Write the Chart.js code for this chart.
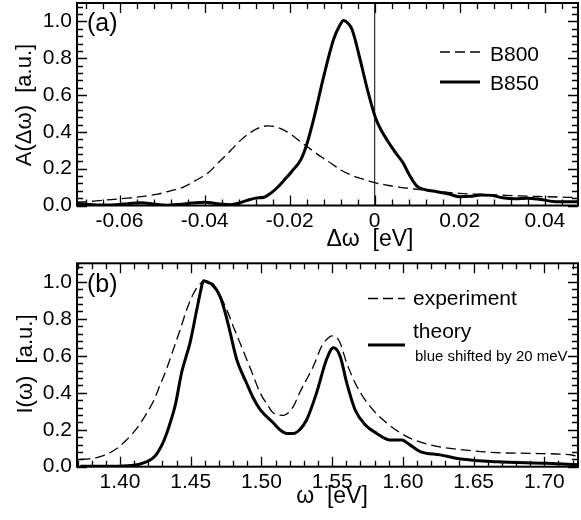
<!DOCTYPE html>
<html>
<head>
<meta charset="utf-8">
<script src="https://cdn.jsdelivr.net/npm/chart.js@4"></script>
<style>
 html, body { margin: 0; padding: 0; background: #fff; }
 .panel { position: absolute; left: 0; width: 581px; height: 260px; }
</style>
</head>
<body>
<div class="panel" style="top:0"><canvas id="chartA" width="581" height="260"></canvas></div>
<div class="panel" style="top:260px"><canvas id="chartB" width="581" height="260"></canvas></div>
<script>
// panel (a): spectral functions vs detuning
var b800X = [-0.070, -0.066, -0.062, -0.058, -0.055, -0.051, -0.048, -0.045, -0.042, -0.039, -0.037, -0.035, -0.033, -0.031, -0.029, -0.027, -0.025, -0.023, -0.021, -0.019, -0.0174, -0.015, -0.0127, -0.010, -0.008, -0.0055, -0.0034, 0.000, 0.003, 0.006, 0.010, 0.013, 0.016, 0.020, 0.024, 0.0287, 0.034, 0.040, 0.048];
var b800Y = [0.018, 0.024, 0.032, 0.040, 0.048, 0.062, 0.080, 0.100, 0.137, 0.180, 0.228, 0.272, 0.320, 0.365, 0.400, 0.424, 0.433, 0.425, 0.405, 0.375, 0.345, 0.305, 0.266, 0.225, 0.193, 0.165, 0.148, 0.124, 0.110, 0.099, 0.088, 0.081, 0.074, 0.066, 0.061, 0.057, 0.052, 0.048, 0.043];

var b850X = [-0.070, -0.067, -0.064, -0.061, -0.058, -0.055, -0.052, -0.049, -0.046, -0.043, -0.040, -0.037, -0.034, -0.032, -0.030, -0.028, -0.026, -0.0245, -0.023, -0.0214, -0.0195, -0.0174, -0.0160, -0.0144, -0.0120, -0.0097, -0.0083, -0.0073, -0.0063, -0.0053, -0.0034, -0.0015, 0.0002, 0.0015, 0.0029, 0.0048, 0.0067, 0.0083, 0.0099, 0.0120, 0.0146, 0.0175, 0.0200, 0.0225, 0.0250, 0.0275, 0.0300, 0.0330, 0.0360, 0.0390, 0.0420, 0.0450, 0.0480];
var b850Y = [0.012, 0.006, 0.003, 0.004, 0.010, 0.015, 0.008, 0.002, 0.006, 0.013, 0.018, 0.010, 0.004, 0.012, 0.028, 0.040, 0.045, 0.066, 0.095, 0.135, 0.185, 0.248, 0.330, 0.465, 0.700, 0.900, 0.975, 1.005, 0.990, 0.955, 0.790, 0.610, 0.475, 0.410, 0.356, 0.290, 0.230, 0.160, 0.105, 0.085, 0.075, 0.062, 0.048, 0.050, 0.057, 0.055, 0.042, 0.036, 0.040, 0.032, 0.022, 0.020, 0.020];

var xTicksA = [-0.06, -0.04, -0.02, 0, 0.02, 0.04];
var xLabelsA = ["-0.06", "-0.04", "-0.02", "0", "0.02", "0.04"];

// panel (b): absorption spectra
var expX = [1.372, 1.378, 1.386, 1.392, 1.398, 1.404, 1.409, 1.414, 1.419, 1.424, 1.428, 1.433, 1.4377, 1.4425, 1.4472, 1.4515, 1.4554, 1.4601, 1.466, 1.472, 1.476, 1.480, 1.4848, 1.4896, 1.4943, 1.499, 1.5038, 1.5085, 1.5156, 1.5226, 1.527, 1.5367, 1.5426, 1.547, 1.5499, 1.555, 1.5603, 1.5674, 1.5768, 1.5886, 1.6027, 1.6193, 1.6428, 1.6664, 1.690, 1.7136, 1.720, 1.724];
var expY = [0.040, 0.042, 0.054, 0.072, 0.100, 0.140, 0.180, 0.230, 0.290, 0.360, 0.435, 0.530, 0.634, 0.740, 0.850, 0.930, 0.978, 1.005, 0.987, 0.906, 0.840, 0.760, 0.670, 0.580, 0.490, 0.400, 0.340, 0.290, 0.278, 0.326, 0.400, 0.543, 0.652, 0.695, 0.707, 0.680, 0.560, 0.435, 0.326, 0.236, 0.163, 0.118, 0.091, 0.076, 0.072, 0.067, 0.062, 0.055];

var theoryX = [1.372, 1.390, 1.405, 1.413, 1.419, 1.423, 1.426, 1.4295, 1.433, 1.436, 1.439, 1.4436, 1.4465, 1.4495, 1.4543, 1.457, 1.459, 1.4625, 1.4649, 1.4708, 1.4745, 1.4779, 1.4825, 1.4896, 1.4943, 1.499, 1.5085, 1.513, 1.518, 1.5226, 1.527, 1.532, 1.539, 1.546, 1.5509, 1.5556, 1.5603, 1.5662, 1.5733, 1.5815, 1.591, 1.5992, 1.605, 1.6122, 1.6263, 1.6428, 1.6664, 1.7018, 1.724];
var theoryY = [0.002, 0.002, 0.005, 0.012, 0.027, 0.045, 0.070, 0.115, 0.180, 0.250, 0.330, 0.510, 0.590, 0.670, 0.850, 0.950, 1.005, 0.995, 0.987, 0.920, 0.830, 0.725, 0.580, 0.450, 0.370, 0.310, 0.236, 0.200, 0.180, 0.180, 0.200, 0.254, 0.400, 0.580, 0.643, 0.598, 0.453, 0.308, 0.227, 0.180, 0.145, 0.145, 0.118, 0.082, 0.064, 0.040, 0.027, 0.018, 0.010];

var xTicksB = [1.40, 1.45, 1.50, 1.55, 1.60, 1.65, 1.70];
var xLabelsB = ["1.40", "1.45", "1.50", "1.55", "1.60", "1.65", "1.70"];

var yTicks = [0, 0.2, 0.4, 0.6, 0.8, 1.0];
var yLabels = ["0.0", "0.2", "0.4", "0.6", "0.8", "1.0"];

var FONT = "'Liberation Sans', Arial, Helvetica, sans-serif";

function pts(xs, ys) {
 return xs.map(function (x, i) {
  return { x: x, y: ys[i] };
 });
}

// inward ticks on all four sides plus the frame
var frameTicks = {
 id: "frameTicks",
 afterDraw: function (chart, args, opts) {
  var ctx = chart.ctx;
  var a = chart.chartArea;
  var xs = chart.scales.x;
  var ys = chart.scales.y;
  ctx.save();
  ctx.strokeStyle = "#000";
  ctx.lineWidth = 1.3;
  ctx.beginPath();
  var k0 = Math.ceil(xs.min / opts.xMinor - 1e-6);
  var k1 = Math.floor(xs.max / opts.xMinor + 1e-6);
  for (var k = k0; k <= k1; k++) {
   var v = k * opts.xMinor;
   var r = v / opts.xMajor;
   var len = Math.abs(r - Math.round(r)) < 1e-6 ? 10 : 6;
   var px = Math.round(xs.getPixelForValue(v)) + 0.5;
   ctx.moveTo(px, a.bottom);
   ctx.lineTo(px, a.bottom - len);
   ctx.moveTo(px, a.top);
   ctx.lineTo(px, a.top + len);
  }
  k0 = Math.ceil(ys.min / opts.yMinor - 1e-6);
  k1 = Math.floor(ys.max / opts.yMinor + 1e-6);
  for (k = k0; k <= k1; k++) {
   v = k * opts.yMinor;
   r = v / opts.yMajor;
   len = Math.abs(r - Math.round(r)) < 1e-6 ? 10 : 6;
   var py = Math.round(ys.getPixelForValue(v)) + 0.5;
   ctx.moveTo(a.left, py);
   ctx.lineTo(a.left + len, py);
   ctx.moveTo(a.right, py);
   ctx.lineTo(a.right - len, py);
  }
  ctx.stroke();
  ctx.lineWidth = 2;
  ctx.strokeRect(a.left, a.top, a.right - a.left, a.bottom - a.top);
  ctx.restore();
 },
};

// legend rows and free text (panel tag, axis titles)
var annotations = {
 id: "annotations",
 afterDraw: function (chart, args, opts) {
  var ctx = chart.ctx;
  ctx.save();
  ctx.fillStyle = "#000";
  ctx.strokeStyle = "#000";
  (opts.legend || []).forEach(function (row) {
   var ds = chart.data.datasets[row.dataset];
   ctx.lineWidth = ds.borderWidth;
   ctx.setLineDash(ds.borderDash || []);
   ctx.beginPath();
   ctx.moveTo(row.x1, row.y);
   ctx.lineTo(row.x2, row.y);
   ctx.stroke();
   ctx.setLineDash([]);
   ctx.font = "21px " + FONT;
   ctx.textAlign = "left";
   ctx.textBaseline = "alphabetic";
   ctx.fillText(ds.label, row.tx, row.ty);
  });
  (opts.texts || []).forEach(function (t) {
   ctx.save();
   ctx.font = t.font;
   ctx.textAlign = t.align || "center";
   ctx.textBaseline = "middle";
   ctx.translate(t.x, t.y);
   if (t.rotate) ctx.rotate(t.rotate);
   ctx.fillText(t.text, 0, 0);
   ctx.restore();
  });
  ctx.restore();
 },
};

function makeChart(id, datasets, cfg) {
 return new Chart(document.getElementById(id), {
  type: "scatter",
  data: { datasets: datasets },
  options: {
   responsive: false,
   animation: false,
   events: [],
   layout: { padding: { left: 0, top: cfg.top, right: 3, bottom: 0 } },
   elements: { point: { radius: 0 } },
   plugins: {
    legend: { display: false },
    tooltip: { enabled: false },
    frameTicks: cfg.ticks,
    annotations: cfg.annotations,
   },
   scales: {
    x: {
     type: "linear",
     min: cfg.xMin,
     max: cfg.xMax,
     grid: { display: false, drawTicks: false },
     border: { display: false },
     afterBuildTicks: function (s) {
      s.ticks = cfg.xTicks.map(function (v) { return { value: v }; });
     },
     afterFit: function (s) {
      s.height = cfg.xHeight;
      s.paddingLeft = 0;
      s.paddingRight = 0;
     },
     ticks: {
      padding: 3,
      maxRotation: 0,
      autoSkip: false,
      color: "#000",
      font: { family: FONT, size: 21 },
      callback: function (v, i) { return cfg.xLabels[i]; },
     },
    },
    y: {
     type: "linear",
     min: 0,
     max: 1.1,
     grid: { display: false, drawTicks: false },
     border: { display: false },
     afterBuildTicks: function (s) {
      s.ticks = yTicks.map(function (v) { return { value: v }; });
     },
     afterFit: function (s) {
      s.width = 77;
      s.paddingTop = 0;
      s.paddingBottom = 0;
     },
     ticks: {
      padding: 5,
      autoSkip: false,
      color: "#000",
      font: { family: FONT, size: 21 },
      callback: function (v, i) { return yLabels[i]; },
     },
    },
   },
  },
  plugins: [frameTicks, annotations],
 });
}

makeChart("chartA", [
 {
  label: "B800",
  data: pts(b800X, b800Y),
  showLine: true,
  borderColor: "#000",
  borderWidth: 1.3,
  borderDash: [10, 5],
  cubicInterpolationMode: "monotone",
 },
 {
  label: "B850",
  data: pts(b850X, b850Y),
  showLine: true,
  borderColor: "#000",
  borderWidth: 3,
  cubicInterpolationMode: "monotone",
 },
 {
  label: "zero",
  data: [{ x: 0, y: 0 }, { x: 0, y: 1.1 }],
  showLine: true,
  borderColor: "#000",
  borderWidth: 1,
 },
], {
 top: 3,
 xHeight: 54.5,
 xMin: -0.07,
 xMax: 0.0478,
 xTicks: xTicksA,
 xLabels: xLabelsA,
 ticks: { xMajor: 0.02, xMinor: 0.004, yMajor: 0.2, yMinor: 0.04 },
 annotations: {
  legend: [
   { dataset: 0, x1: 440, x2: 480, y: 52, tx: 490, ty: 61 },
   { dataset: 1, x1: 440, x2: 480, y: 82, tx: 490, ty: 90 },
  ],
  texts: [
   { text: "(a)", x: 87, y: 24, align: "left", font: "25px " + FONT },
   { text: "A(\u0394\u03c9)  [a.u.]", x: 25, y: 105, rotate: -Math.PI / 2, font: "22px " + FONT },
   { text: "\u0394\u03c9  [eV]", x: 370, y: 240, font: "23px " + FONT },
  ],
 },
});

makeChart("chartB", [
 {
  label: "experiment",
  data: pts(expX, expY),
  showLine: true,
  borderColor: "#000",
  borderWidth: 1.3,
  borderDash: [10, 5],
  cubicInterpolationMode: "monotone",
 },
 {
  label: "theory",
  data: pts(theoryX, theoryY),
  showLine: true,
  borderColor: "#000",
  borderWidth: 3,
  cubicInterpolationMode: "monotone",
 },
], {
 top: 3.3,
 xHeight: 53.3,
 xMin: 1.3696,
 xMax: 1.7238,
 xTicks: xTicksB,
 xLabels: xLabelsB,
 ticks: { xMajor: 0.05, xMinor: 0.01, yMajor: 0.2, yMinor: 0.04 },
 annotations: {
  legend: [
   { dataset: 0, x1: 368, x2: 405, y: 38.5, tx: 413, ty: 45 },
   { dataset: 1, x1: 368, x2: 405, y: 85, tx: 413, ty: 78 },
  ],
  texts: [
   { text: "(b)", x: 87, y: 25, align: "left", font: "25px " + FONT },
   { text: "blue shifted by 20 meV", x: 415, y: 97, align: "left", font: "15px " + FONT },
   { text: "I(\u03c9)  [a.u.]", x: 26, y: 104, rotate: -Math.PI / 2, font: "22px " + FONT },
   { text: "\u03c9  [eV]", x: 332, y: 237, font: "23px " + FONT },
  ],
 },
});
</script>
</body>
</html>
